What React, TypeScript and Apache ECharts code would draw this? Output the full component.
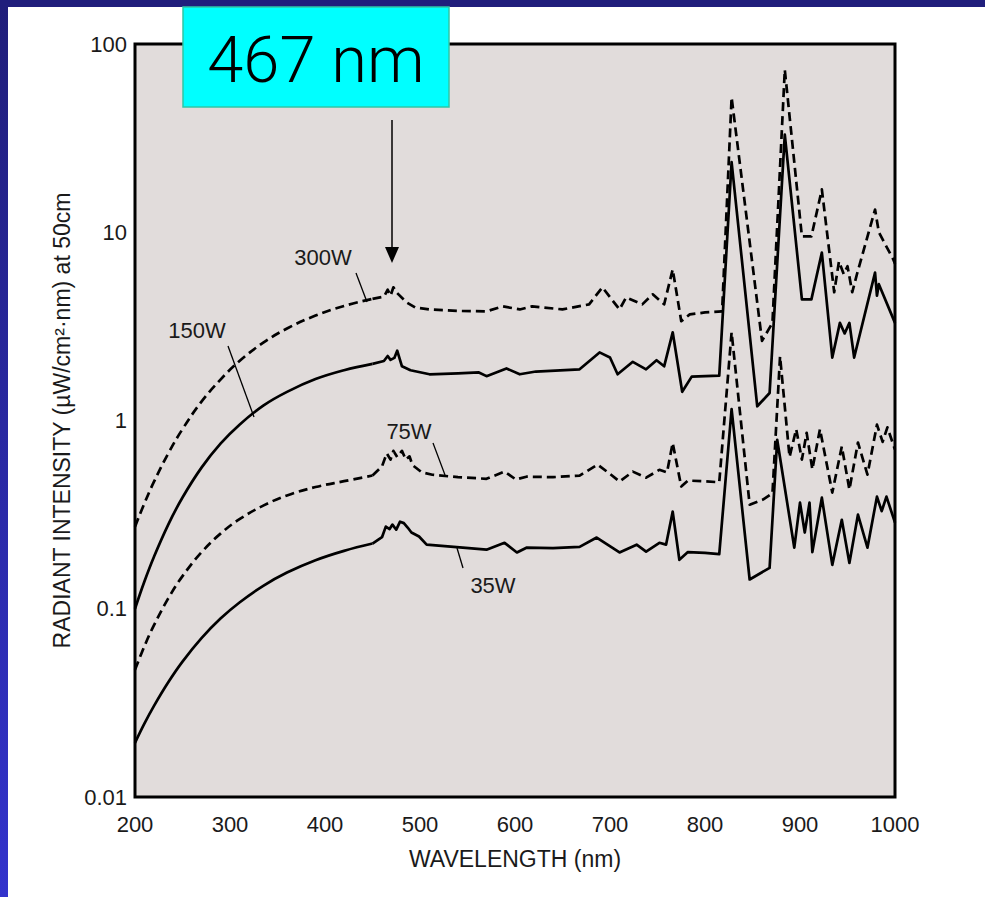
import React, { useEffect, useRef } from "react";
import * as echarts from "echarts";

// Wavelength (nm) and radiant intensity (µW/cm²·nm at 50cm) per lamp power
const wl300 = [200, 210, 220, 235, 250, 270, 290, 310, 335, 360, 390, 420, 450, 462, 466, 469, 472, 476, 486, 495, 510, 540, 570, 587, 605, 618, 650, 678, 692, 710, 717, 734, 745, 757, 766, 775, 784, 800, 818, 828, 860, 871, 884, 902, 912, 923, 936, 941, 946, 950, 955, 960, 979, 983, 998, 1000];
const v300 = [0.273, 0.364, 0.473, 0.668, 0.9, 1.26, 1.65, 2.07, 2.59, 3.08, 3.61, 4.06, 4.43, 4.55, 4.95, 4.6, 5.1, 4.75, 4.24, 3.98, 3.89, 3.82, 3.8, 4.04, 3.89, 4.04, 3.89, 4.14, 5.1, 3.89, 4.51, 4.14, 4.68, 4.14, 6.35, 3.37, 3.66, 3.75, 3.8, 52, 2.65, 3.3, 73, 9.5, 9.5, 16.9, 4.8, 7.0, 6.0, 6.6, 4.8, 6.0, 13.2, 10, 7.2, 6.8];

const wl150 = [200, 210, 220, 235, 250, 270, 290, 310, 335, 360, 390, 420, 450, 462, 466, 469, 473, 476, 481, 490, 510, 540, 562, 570, 591, 605, 622, 668, 689, 700, 708, 724, 738, 749, 757, 766, 776, 786, 815, 828, 855, 868, 884, 902, 912, 923, 934, 942, 947, 952, 957, 979, 981, 983, 1000];
const v150 = [0.1, 0.14, 0.189, 0.28, 0.39, 0.562, 0.753, 0.95, 1.2, 1.42, 1.66, 1.85, 2.0, 2.07, 2.2, 2.1, 2.15, 2.35, 1.94, 1.85, 1.76, 1.78, 1.8, 1.72, 1.89, 1.76, 1.82, 1.87, 2.3, 2.16, 1.76, 2.05, 1.87, 2.09, 1.94, 2.94, 1.42, 1.71, 1.73, 23.6, 1.19, 1.4, 33, 4.4, 4.4, 7.8, 2.16, 3.3, 2.9, 3.3, 2.16, 6.1, 4.6, 5.3, 3.3];

const wl75 = [200, 210, 220, 235, 250, 270, 290, 310, 335, 360, 390, 420, 450, 460, 465, 469, 472, 476, 481, 485, 489, 492, 502, 513, 540, 570, 589, 601, 612, 640, 668, 687, 700, 710, 724, 738, 752, 760, 766, 775, 782, 800, 815, 828, 847, 861, 871, 879, 889, 896, 902, 907, 913, 921, 934, 944, 952, 961, 971, 981, 987, 992, 1000];
const v75 = [0.0474, 0.0634, 0.0818, 0.1135, 0.149, 0.1995, 0.2506, 0.299, 0.353, 0.4, 0.443, 0.476, 0.51, 0.57, 0.67, 0.62, 0.69, 0.64, 0.69, 0.62, 0.645, 0.58, 0.53, 0.515, 0.5, 0.49, 0.535, 0.486, 0.503, 0.5, 0.51, 0.583, 0.52, 0.474, 0.535, 0.497, 0.547, 0.53, 0.76, 0.446, 0.48, 0.475, 0.47, 2.94, 0.357, 0.38, 0.41, 2.19, 0.64, 0.9, 0.62, 0.86, 0.55, 0.9, 0.414, 0.727, 0.43, 0.764, 0.516, 0.95, 0.77, 0.92, 0.7];

const wl35 = [200, 210, 220, 235, 250, 270, 290, 310, 335, 360, 390, 420, 450, 460, 464, 468, 471, 475, 479, 483, 487, 491, 499, 507, 545, 570, 589, 602, 612, 640, 668, 686, 710, 728, 738, 752, 759, 766, 773, 782, 800, 815, 828, 847, 868, 876, 894, 900, 905, 910, 913, 923, 934, 944, 952, 961, 971, 981, 986, 991, 1000];
const v35 = [0.0194, 0.0246, 0.0305, 0.0407, 0.0524, 0.0698, 0.0887, 0.108, 0.1324, 0.1557, 0.181, 0.203, 0.222, 0.24, 0.273, 0.265, 0.28, 0.263, 0.29, 0.285, 0.27, 0.254, 0.242, 0.219, 0.211, 0.206, 0.224, 0.199, 0.211, 0.21, 0.213, 0.239, 0.199, 0.219, 0.201, 0.224, 0.219, 0.328, 0.182, 0.2, 0.198, 0.195, 1.15, 0.143, 0.165, 0.79, 0.211, 0.366, 0.254, 0.366, 0.2, 0.389, 0.171, 0.297, 0.175, 0.316, 0.211, 0.394, 0.33, 0.394, 0.287];

const seriesNames = ["300W", "150W", "75W", "35W"];
const xLabel = "WAVELENGTH (nm)";
const yLabel = "RADIANT INTENSITY (µW/cm²·nm) at 50cm";
const calloutText = "467 nm";
// the smooth continuum below this wavelength is drawn as a curve
const smoothLimit = 450;

const FONT = "'Liberation Sans', Arial, Helvetica, sans-serif";

export default function App() {
  const ref = useRef<HTMLDivElement>(null);

  useEffect(() => {
    if (!ref.current) return;
    const chart = echarts.init(ref.current, null, { renderer: "svg" });
    const pair = (w: number[], v: number[]) => w.map((x, i) => [x, v[i]]);
    const lineSeries = (name: string, data: number[][], dashed: boolean, smooth: boolean) => ({
      name,
      type: "line",
      data,
      showSymbol: false,
      symbol: "none",
      smooth: smooth ? 0.4 : false,
      silent: true,
      clip: true,
      lineStyle: { color: "#000", width: 2.7, type: dashed ? [9, 5] : "solid", join: "round", cap: "butt" },
      z: 3,
    });
    const both = (name: string, w: number[], v: number[], dashed: boolean) => {
      const pts = pair(w, v);
      return [
        lineSeries(name, pts.filter((p) => p[0] <= smoothLimit), dashed, true),
        lineSeries(name, pts.filter((p) => p[0] >= smoothLimit), dashed, false),
      ];
    };

    const textStyle = { fontFamily: FONT, fontSize: 22, fill: "#1a1a1a" };

    const option: any = {
      animation: false,
      backgroundColor: "#ffffff",
      grid: {
        left: 135,
        top: 44,
        width: 760,
        height: 753,
        show: true,
        backgroundColor: "#e1dcdb",
        borderColor: "#000",
        borderWidth: 3,
        z: 1,
      },
      xAxis: {
        type: "value",
        min: 200,
        max: 1000,
        interval: 100,
        axisLine: { show: false },
        axisTick: { show: false },
        splitLine: { show: false },
        axisLabel: {
          margin: 16,
          fontFamily: FONT,
          fontSize: 22,
          color: "#1a1a1a",
          formatter: (v: number) => String(v),
        },
        name: xLabel,
        nameLocation: "middle",
        nameGap: 50,
        nameTextStyle: { fontFamily: FONT, fontSize: 23, color: "#1a1a1a" },
      },
      yAxis: {
        type: "log",
        logBase: 10,
        min: 0.01,
        max: 100,
        axisLine: { show: false },
        axisTick: { show: false },
        splitLine: { show: false },
        axisLabel: {
          margin: 8,
          fontFamily: FONT,
          fontSize: 22,
          color: "#1a1a1a",
          formatter: (v: number) => String(Number(v.toPrecision(6))),
        },
        name: yLabel,
        nameLocation: "middle",
        nameGap: 51,
        nameTextStyle: { fontFamily: FONT, fontSize: 23, color: "#1a1a1a" },
      },
      series: [
        ...both(seriesNames[0], wl300, v300, true),
        ...both(seriesNames[1], wl150, v150, false),
        ...both(seriesNames[2], wl75, v75, true),
        ...both(seriesNames[3], wl35, v35, false),
      ],
      graphic: [
        // slide frame
        {
          type: "rect",
          shape: { x: 0, y: 0, width: 8, height: 897 },
          style: {
            fill: new echarts.graphic.LinearGradient(0, 0, 0, 1, [
              { offset: 0, color: "#201e7a" },
              { offset: 1, color: "#3333cc" },
            ]),
          },
          z: 20,
        },
        { type: "rect", shape: { x: 0, y: 0, width: 985, height: 7 }, style: { fill: "#201e7c" }, z: 21 },
        // callout box
        {
          type: "rect",
          shape: { x: 183, y: 7, width: 266, height: 100 },
          style: { fill: "#00ffff", stroke: "#2fc6a6", lineWidth: 1.5 },
          z: 30,
        },
        {
          type: "text",
          x: 316,
          y: 60,
          style: {
            text: calloutText,
            fontFamily: "Roboto, 'Liberation Sans', Arial, sans-serif",
            fontWeight: 300,
            fontSize: 65,
            fill: "#000",
            align: "center",
            verticalAlign: "middle",
          },
          z: 31,
        },
        // arrow
        { type: "line", shape: { x1: 392, y1: 120, x2: 392, y2: 250 }, style: { stroke: "#000", lineWidth: 1.5 }, z: 30 },
        { type: "polygon", shape: { points: [[385, 247], [399, 247], [392, 263]] }, style: { fill: "#000" }, z: 30 },
        // series labels
        { type: "text", x: 323, y: 257, style: { ...textStyle, text: seriesNames[0], align: "center", verticalAlign: "middle" }, z: 30 },
        { type: "text", x: 197, y: 330, style: { ...textStyle, text: seriesNames[1], align: "center", verticalAlign: "middle" }, z: 30 },
        { type: "text", x: 409, y: 431, style: { ...textStyle, text: seriesNames[2], align: "center", verticalAlign: "middle" }, z: 30 },
        { type: "text", x: 493, y: 585, style: { ...textStyle, text: seriesNames[3], align: "center", verticalAlign: "middle" }, z: 30 },
        // leader lines
        { type: "line", shape: { x1: 356, y1: 273, x2: 367, y2: 302 }, style: { stroke: "#000", lineWidth: 1.3 }, z: 30 },
        { type: "line", shape: { x1: 228, y1: 346, x2: 254, y2: 417 }, style: { stroke: "#000", lineWidth: 1.3 }, z: 30 },
        { type: "line", shape: { x1: 433, y1: 443, x2: 445, y2: 475 }, style: { stroke: "#000", lineWidth: 1.3 }, z: 30 },
        { type: "line", shape: { x1: 457, y1: 548, x2: 463, y2: 568 }, style: { stroke: "#000", lineWidth: 1.3 }, z: 30 },
      ],
    };
    chart.setOption(option);
    return () => chart.dispose();
  }, []);

  return (
    <div
      ref={ref}
      style={{ position: "fixed", left: 0, top: 0, width: 985, height: 897, background: "#fff" }}
    />
  );
}
